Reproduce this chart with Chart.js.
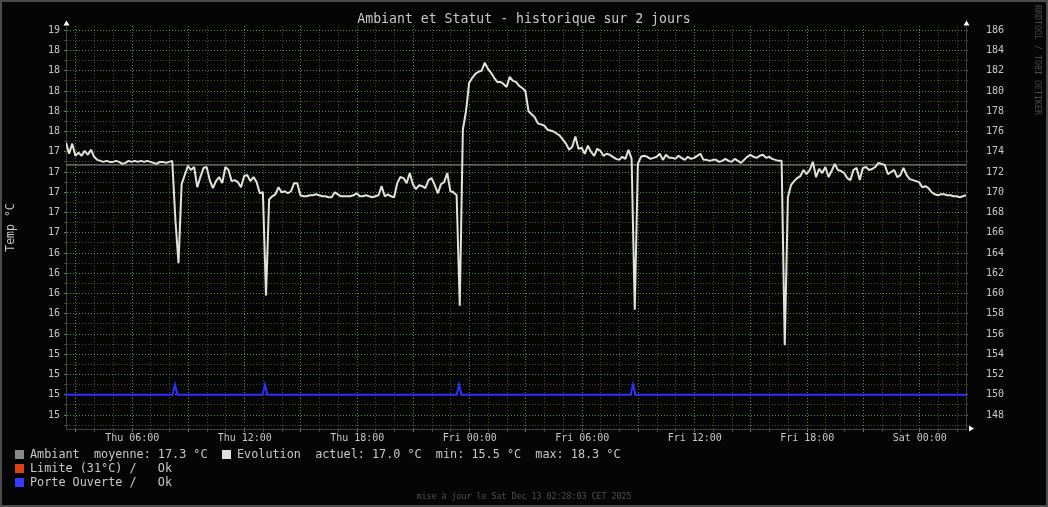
<!DOCTYPE html>
<html lang="fr">
  <head>
    <meta charset="UTF-8" />
    <title>Ambiant et Statut - historique sur 2 jours</title>
    <style>
      body { margin: 0; background: #000; }
      #wrap { position: relative; width: 1048px; height: 507px; overflow: hidden;
              font-family: "DejaVu Sans Mono", monospace; }
      #wrap canvas { position: absolute; left: 0; top: 0; }
      .t { position: absolute; white-space: pre; color: #c8c8c8; }
      .box { position: absolute; width: 9px; height: 9px; box-sizing: border-box; }
      .leg { font-size: 11.8px; line-height: 14px; }
    </style>
  </head>
  <body>
    <div id="wrap">
      <canvas id="graphic" width="1048" height="507"></canvas>

      <div class="t" style="left:0;width:1048px;text-align:center;top:10px;font-size:13.2px;line-height:18px">Ambiant et Statut - historique sur 2 jours</div>

      <!-- legende -->
      <div class="box" style="left:15px;top:450px;background:#8a8a8a"></div>
      <div class="t leg" style="left:30px;top:447px">Ambiant  moyenne: 17.3 °C</div>
      <div class="box" style="left:222px;top:450px;background:#dedede"></div>
      <div class="t leg" style="left:237px;top:447px">Evolution  actuel: 17.0 °C  min: 15.5 °C  max: 18.3 °C</div>
      <div class="box" style="left:15px;top:464px;background:#dc4010"></div>
      <div class="t leg" style="left:30px;top:461px">Limite (31°C) /   Ok</div>
      <div class="box" style="left:15px;top:478px;background:#3838ff"></div>
      <div class="t leg" style="left:30px;top:475px">Porte Ouverte /   Ok</div>

      <div class="t" style="left:0;width:1048px;text-align:center;top:491px;font-size:8.3px;line-height:10px;color:#505050">mise à jour le Sat Dec 13 02:28:03 CET 2025</div>
      <div class="t" style="left:1033px;top:5px;font-size:8.3px;line-height:10px;color:#4a4a4a;writing-mode:vertical-rl">RRDTOOL / TOBI OETIKER</div>
    </div>

    <script src="https://cdn.jsdelivr.net/npm/chart.js"></script>
    <script>
      // heures depuis jeudi 00:00
      const startHour = 2.4675;   // Thu 02:28:03
      const endHour = 50.4675;    // Sat 02:28:03
      const stepHours = 1 / 6;    // un point toutes les 10 min

      // temperature (°C), releve toutes les 10 minutes
      const evolution = [
        17.49, 17.38, 17.48, 17.36, 17.39, 17.36, 17.41, 17.37, 17.42, 17.35, 17.32, 17.31,
        17.30, 17.31, 17.30, 17.30, 17.31, 17.30, 17.28, 17.29, 17.31, 17.30, 17.31, 17.30,
        17.31, 17.30, 17.31, 17.30, 17.29, 17.28, 17.30, 17.30, 17.29, 17.30, 17.31, 16.73,
        16.30, 17.08, 17.17, 17.26, 17.22, 17.25, 17.05, 17.15, 17.24, 17.25, 17.12, 17.04,
        17.11, 17.15, 17.09, 17.25, 17.22, 17.11, 17.12, 17.10, 17.05, 17.16, 17.17, 17.11,
        17.15, 17.10, 16.99, 17.00, 15.98, 16.93, 16.96, 16.98, 17.05, 17.00, 17.01, 16.99,
        17.01, 17.09, 17.09, 16.97, 16.96, 16.96, 16.97, 16.97, 16.98, 16.97, 16.96, 16.96,
        16.95, 16.95, 17.00, 16.98, 16.96, 16.96, 16.96, 16.96, 16.97, 16.99, 16.96, 16.96,
        16.97, 16.96, 16.95, 16.96, 16.97, 17.06, 16.96, 16.98, 16.96, 16.95, 17.09, 17.15,
        17.14, 17.09, 17.19, 17.08, 17.03, 17.07, 17.06, 17.04, 17.12, 17.14, 17.07, 16.99,
        17.08, 17.10, 17.19, 17.01, 17.00, 16.97, 15.88, 17.62, 17.80, 18.08, 18.13, 18.17,
        18.19, 18.20, 18.28, 18.22, 18.18, 18.13, 18.09, 18.09, 18.07, 18.04, 18.14, 18.10,
        18.09, 18.05, 18.03, 18.00, 17.80, 17.77, 17.74, 17.68, 17.67, 17.66, 17.62, 17.61,
        17.60, 17.58, 17.56, 17.52, 17.48, 17.42, 17.45, 17.55, 17.43, 17.44, 17.38, 17.46,
        17.40, 17.36, 17.43, 17.41, 17.36, 17.38, 17.37, 17.35, 17.33, 17.32, 17.35, 17.33,
        17.42, 17.33, 15.84, 17.28, 17.35, 17.36, 17.35, 17.33, 17.34, 17.35, 17.38, 17.32,
        17.37, 17.34, 17.34, 17.33, 17.36, 17.34, 17.32, 17.35, 17.33, 17.34, 17.36, 17.38,
        17.32, 17.32, 17.31, 17.32, 17.32, 17.30, 17.31, 17.33, 17.31, 17.30, 17.33, 17.31,
        17.29, 17.32, 17.35, 17.37, 17.35, 17.34, 17.36, 17.37, 17.34, 17.35, 17.33, 17.32,
        17.31, 17.31, 15.49, 16.95, 17.07, 17.11, 17.14, 17.16, 17.22, 17.18, 17.22, 17.30,
        17.15, 17.23, 17.19, 17.25, 17.15, 17.21, 17.28, 17.22, 17.21, 17.19, 17.14, 17.12,
        17.22, 17.24, 17.12, 17.24, 17.25, 17.22, 17.23, 17.25, 17.29, 17.28, 17.27, 17.18,
        17.20, 17.22, 17.15, 17.17, 17.24, 17.17, 17.13, 17.12, 17.11, 17.10, 17.05, 17.06,
        17.04, 17.00, 16.98, 16.97, 16.98, 16.98, 16.97, 16.97, 16.96, 16.96, 16.95, 16.96,
        16.97
      ];

      const moyenne = 17.27;

      // porte ouverte : 15.0 = fermee, 15.1 = ouverte
      const porteHours = [2.4675, 8.15, 8.28, 8.41, 12.95, 13.08, 13.21, 23.30, 23.43, 23.56,
                          32.58, 32.71, 32.84, 50.4675];
      const porteValues = [15.0, 15.0, 15.1, 15.0, 15.0, 15.1, 15.0, 15.0, 15.1, 15.0,
                           15.0, 15.1, 15.0, 15.0];

      const xTickHours = [6, 12, 18, 24, 30, 36, 42, 48];
      const xTickLabels = ["Thu 06:00", "Thu 12:00", "Thu 18:00", "Fri 00:00",
                           "Fri 06:00", "Fri 12:00", "Fri 18:00", "Sat 00:00"];

      const yMin = 14.662;
      const yMax = 18.642;

      const GREEN = "#5a8a4e";
      const OLIVE = "#4a4a1e";
      const TXT = "#c8c8c8";

      Chart.defaults.font.family = "'DejaVu Sans Mono', monospace";

      const isMajorY = (v) => Math.round(v * 10) % 2 === 0;

      // fond, cadre et fleches facon rrdtool
      const rrdFrame = {
        id: "rrdFrame",
        beforeDraw(chart) {
          const c = chart.ctx;
          c.save();
          c.fillStyle = "#050505";
          c.fillRect(0, 0, chart.width, chart.height);
          c.strokeStyle = "#4c4c4c";
          c.lineWidth = 2;
          c.strokeRect(1, 1, chart.width - 2, chart.height - 2);
          c.restore();
        },
        afterDraw(chart) {
          const { left, right, bottom } = chart.chartArea;
          const c = chart.ctx;
          c.save();
          c.fillStyle = "#ffffff";
          const up = (x) => {
            c.beginPath();
            c.moveTo(x, 20.5);
            c.lineTo(x - 3, 25.5);
            c.lineTo(x + 3, 25.5);
            c.closePath();
            c.fill();
          };
          up(left + 0.5);
          up(right + 0.5);
          c.beginPath();
          c.moveTo(right + 8, bottom - 0.5);
          c.lineTo(right + 3, bottom - 3.5);
          c.lineTo(right + 3, bottom + 2.5);
          c.closePath();
          c.fill();
          c.restore();
        },
      };

      const yTicks = (scale) => {
        const t = [];
        for (let k = 147; k <= 186; k++) t.push({ value: k / 10 });
        scale.ticks = t;
      };

      const lienzo = document.getElementById("graphic");
      new Chart(lienzo, {
        type: "line",
        data: {
          datasets: [
            {
              label: "Porte Ouverte",
              data: porteHours.map((h, i) => ({ x: h, y: porteValues[i] })),
              borderColor: "#2e2eff",
              borderWidth: 2,
              pointRadius: 0,
              order: 0,
            },
            {
              label: "Evolution",
              data: evolution.map((v, i) => ({ x: startHour + i * stepHours, y: v })),
              borderColor: "#e2e3dc",
              borderWidth: 2,
              borderJoinStyle: "bevel",
              pointRadius: 0,
              order: 1,
            },
            {
              label: "Ambiant",
              data: [{ x: startHour, y: moyenne }, { x: endHour, y: moyenne }],
              borderColor: "#a0a0a0",
              borderWidth: 1,
              pointRadius: 0,
              order: 2,
            },
          ],
        },
        options: {
          responsive: false,
          animation: false,
          layout: { padding: { top: 26, left: 0, right: 0, bottom: 0 } },
          plugins: { legend: { display: false }, tooltip: { enabled: false } },
          scales: {
            x: {
              type: "linear",
              min: startHour,
              max: endHour,
              afterBuildTicks: (scale) => {
                const t = [];
                for (let h = 3; h <= 50; h++) t.push({ value: h });
                scale.ticks = t;
              },
              afterFit: (scale) => { scale.height = 78; },
              grid: {
                color: (ctx) => (ctx.tick && ctx.tick.value % 3 === 0 ? GREEN : OLIVE),
                tickLength: 3,
              },
              border: { display: true, color: "#404040", dash: [1, 2] },
              ticks: {
                autoSkip: false,
                maxRotation: 0,
                padding: 0,
                color: TXT,
                font: { size: 10 },
                callback: (v) => {
                  const j = xTickHours.indexOf(v);
                  return j >= 0 ? xTickLabels[j] : "";
                },
              },
            },
            y: {
              position: "left",
              min: yMin,
              max: yMax,
              afterBuildTicks: yTicks,
              afterFit: (scale) => { scale.width = 66; },
              grid: {
                color: (ctx) => (ctx.tick && isMajorY(ctx.tick.value) ? GREEN : OLIVE),
                tickLength: 2,
              },
              border: { display: true, color: "#404040", dash: [1, 2] },
              ticks: {
                autoSkip: false,
                padding: 4,
                color: TXT,
                font: { size: 10 },
                callback: (v) => (isMajorY(v) ? String(Math.round(Math.round(v * 10) / 10)) : ""),
              },
              title: {
                display: true,
                text: "Temp °C",
                color: TXT,
                font: { size: 11.5 },
                padding: { top: 4, bottom: 0 },
              },
            },
            y2: {
              position: "right",
              min: yMin,
              max: yMax,
              afterBuildTicks: yTicks,
              afterFit: (scale) => { scale.width = 82; },
              grid: {
                drawOnChartArea: false,
                color: (ctx) => (ctx.tick && isMajorY(ctx.tick.value) ? GREEN : OLIVE),
                tickLength: 2,
              },
              border: { display: true, color: "#404040" },
              ticks: {
                autoSkip: false,
                padding: 18,
                color: TXT,
                font: { size: 10 },
                callback: (v) => (isMajorY(v) ? String(Math.round(v * 10)) : ""),
              },
            },
          },
        },
        plugins: [rrdFrame],
      });
    </script>
  </body>
</html>
